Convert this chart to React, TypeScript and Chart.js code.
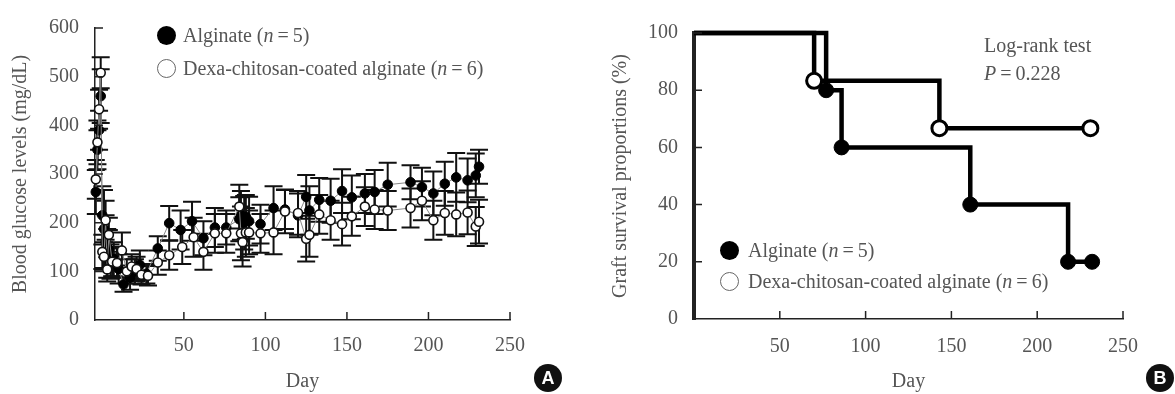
import React, { useEffect, useRef } from 'react';
import { Chart, registerables } from 'chart.js';

Chart.register(...registerables);

const FONT = '"Liberation Serif", "Times New Roman", serif';
const TEXT = '#555555';
const AXIS = '#222222';
const EQ = '\u2009=\u2009';

// ---- Panel A: blood glucose ----
const ALG_DAYS = [-4, -3, -2, -1, 0, 1, 2, 3, 4, 5, 7, 10, 13, 17, 20, 23, 27, 34, 41, 48, 55, 62, 69, 76, 84, 85, 87, 88, 90, 97, 105, 112, 120, 125, 127, 133, 140, 147, 153, 161, 167, 175, 189, 196, 203, 210, 217, 224, 229, 231];
const ALG_MEAN = [263, 350, 390, 460, 215, 187, 160, 137, 145, 120, 125, 105, 73, 87, 100, 113, 95, 147, 199, 185, 203, 168, 190, 190, 207, 215, 200, 212, 203, 197, 230, 227, 215, 253, 225, 247, 245, 265, 252, 260, 263, 278, 283, 273, 260, 280, 293, 287, 297, 315];
const ALG_ERR = [45, 40, 40, 55, 60, 80, 55, 50, 40, 35, 35, 30, 15, 25, 25, 30, 20, 25, 35, 40, 40, 35, 40, 35, 45, 50, 55, 45, 50, 40, 45, 40, 45, 45, 50, 45, 45, 45, 45, 40, 45, 45, 35, 40, 45, 45, 50, 45, 45, 35];

const DEX_DAYS = [-4, -3, -2, -1, 0, 1, 2, 3, 4, 6, 9, 12, 15, 18, 21, 24, 28, 34, 41, 49, 56, 62, 69, 76, 84, 85, 86, 88, 90, 97, 105, 112, 120, 125, 127, 133, 140, 147, 153, 161, 167, 175, 189, 196, 203, 210, 217, 224, 229, 231];
const DEX_MEAN = [289, 365, 433, 508, 140, 130, 205, 104, 175, 120, 117, 143, 100, 110, 105, 93, 91, 118, 133, 150, 170, 140, 178, 178, 233, 178, 160, 180, 180, 178, 180, 223, 220, 167, 175, 217, 205, 197, 213, 233, 227, 225, 230, 245, 205, 220, 217, 221, 192, 202];
const DEX_ERR = [40, 45, 40, 32, 35, 30, 40, 25, 35, 30, 30, 37, 25, 25, 25, 20, 20, 25, 30, 35, 40, 37, 40, 40, 45, 55, 50, 50, 45, 40, 45, 45, 45, 47, 45, 40, 40, 44, 40, 40, 40, 40, 40, 40, 40, 45, 45, 45, 40, 45];

const A_X_TICKS = [50, 100, 150, 200, 250];
const A_Y_TICKS = [0, 100, 200, 300, 400, 500, 600];

// ---- Panel B: graft survival (Kaplan-Meier) ----
const ALG_KM_DAYS = [0, 77, 86, 161, 218, 232];
const ALG_KM_SURV = [100, 80, 60, 40, 20, 20];
const DEX_KM_DAYS = [0, 70, 143, 231];
const DEX_KM_SURV = [100, 83.3, 66.7, 66.7];

const B_X_TICKS = [50, 100, 150, 200, 250];
const B_Y_TICKS = [0, 20, 40, 60, 80, 100];

const CAP = 9;

const errorBars = {
  id: 'errorBars',
  beforeDatasetsDraw(chart: any) {
    const { ctx } = chart;
    const xS = chart.scales.x;
    const yS = chart.scales.y;
    chart.data.datasets.forEach((ds: any) => {
      if (!ds.errors) return;
      ctx.save();
      ctx.strokeStyle = '#111';
      ctx.lineWidth = 2;
      ds.data.forEach((p: any, i: number) => {
        const e = ds.errors[i];
        const px = xS.getPixelForValue(p.x);
        const top = yS.getPixelForValue(p.y + e);
        const bot = yS.getPixelForValue(p.y - e);
        ctx.beginPath();
        ctx.moveTo(px, top);
        ctx.lineTo(px, bot);
        ctx.moveTo(px - CAP, top);
        ctx.lineTo(px + CAP, top);
        ctx.moveTo(px - CAP, bot);
        ctx.lineTo(px + CAP, bot);
        ctx.stroke();
      });
      ctx.restore();
    });
  },
};

const insideTicks = {
  id: 'insideTicks',
  afterDatasetsDraw(chart: any) {
    const { ctx } = chart;
    const x = chart.scales.x;
    const y = chart.scales.y;
    const len = 8;
    ctx.save();
    ctx.strokeStyle = AXIS;
    ctx.lineWidth = 1.5;
    ctx.beginPath();
    x.ticks.forEach((t: any) => {
      const px = x.getPixelForValue(t.value);
      ctx.moveTo(px, x.top);
      ctx.lineTo(px, x.top - len);
    });
    y.ticks.forEach((t: any) => {
      if (t.value === y.min) return;
      const py = y.getPixelForValue(t.value);
      ctx.moveTo(y.right, py);
      ctx.lineTo(y.right + len, py);
    });
    ctx.stroke();
    ctx.restore();
  },
};

const font = { family: FONT, size: 20 };

function axes(opts: {
  xMin: number; xMax: number; xTicks: number[]; yMax: number; yTicks: number[];
  yWidth: number; xHeight: number; yTitle: string; yTitlePad: number; xPad: number; yBorder: number;
}) {
  return {
    x: {
      type: 'linear',
      min: opts.xMin,
      max: opts.xMax,
      afterBuildTicks: (s: any) => { s.ticks = opts.xTicks.map((v) => ({ value: v })); },
      afterFit: (s: any) => { s.height = opts.xHeight; },
      grid: { display: false, drawTicks: false },
      border: { display: true, color: AXIS, width: 1.5 },
      ticks: { color: TEXT, font, padding: opts.xPad, maxRotation: 0, autoSkip: false },
      title: { display: true, text: 'Day', color: TEXT, font, padding: { top: 0, bottom: 0 } },
    },
    y: {
      type: 'linear',
      min: 0,
      max: opts.yMax,
      afterBuildTicks: (s: any) => { s.ticks = opts.yTicks.map((v) => ({ value: v })); },
      afterFit: (s: any) => { s.width = opts.yWidth; },
      grid: { display: false, drawTicks: false },
      border: { display: true, color: AXIS, width: opts.yBorder },
      ticks: { color: TEXT, font, padding: 16, autoSkip: false },
      title: { display: true, text: opts.yTitle, color: TEXT, font, padding: { top: opts.yTitlePad, bottom: 0 } },
    },
  };
}

function GlucoseChart() {
  const ref = useRef<HTMLCanvasElement>(null);
  useEffect(() => {
    const chart = new Chart(ref.current as HTMLCanvasElement, {
      type: 'line',
      data: {
        datasets: [
          {
            label: 'Dexa-chitosan-coated alginate (n=6)',
            data: DEX_DAYS.map((d, i) => ({ x: d, y: DEX_MEAN[i] })),
            errors: DEX_ERR,
            borderColor: '#888',
            borderWidth: 1,
            pointRadius: 4.5,
            pointBackgroundColor: '#fff',
            pointBorderColor: '#111',
            pointBorderWidth: 1.6,
            clip: false,
          } as any,
          {
            label: 'Alginate (n=5)',
            data: ALG_DAYS.map((d, i) => ({ x: d, y: ALG_MEAN[i] })),
            errors: ALG_ERR,
            borderColor: '#888',
            borderWidth: 1,
            pointRadius: 4.8,
            pointBackgroundColor: '#000',
            pointBorderColor: '#000',
            pointBorderWidth: 1,
            clip: false,
          } as any,
        ],
      },
      options: {
        responsive: false,
        animation: false,
        layout: { padding: { left: 0, top: 20, right: 70, bottom: 0 } },
        plugins: { legend: { display: false }, tooltip: { enabled: false } },
        scales: axes({
          xMin: -4.5, xMax: 250, xTicks: A_X_TICKS, yMax: 600, yTicks: A_Y_TICKS,
          yWidth: 95, xHeight: 74, yTitle: 'Blood glucose levels (mg/dL)', yTitlePad: 9, xPad: 14, yBorder: 1.5,
        }) as any,
      },
      plugins: [errorBars, insideTicks],
    });
    return () => chart.destroy();
  }, []);
  return <canvas ref={ref} width={580} height={394} style={{ position: 'absolute', left: 0, top: 0 }} />;
}

function SurvivalChart() {
  const ref = useRef<HTMLCanvasElement>(null);
  useEffect(() => {
    const chart = new Chart(ref.current as HTMLCanvasElement, {
      type: 'line',
      data: {
        datasets: [
          {
            label: 'Dexa-chitosan-coated alginate (n=6)',
            data: DEX_KM_DAYS.map((d, i) => ({ x: d, y: DEX_KM_SURV[i] })),
            stepped: 'before',
            borderColor: '#000',
            borderWidth: 4.5,
            pointRadius: DEX_KM_DAYS.map((_, i) => (i === 0 ? 0 : 7.5)),
            pointBackgroundColor: '#fff',
            pointBorderColor: '#000',
            pointBorderWidth: 3,
            clip: false,
          } as any,
          {
            label: 'Alginate (n=5)',
            data: ALG_KM_DAYS.map((d, i) => ({ x: d, y: ALG_KM_SURV[i] })),
            stepped: 'before',
            borderColor: '#000',
            borderWidth: 4.5,
            pointRadius: ALG_KM_DAYS.map((_, i) => (i === 0 ? 0 : 7.5)),
            pointBackgroundColor: '#000',
            pointBorderColor: '#000',
            pointBorderWidth: 1,
            clip: false,
          } as any,
        ],
      },
      options: {
        responsive: false,
        animation: false,
        layout: { padding: { left: 0, top: 33, right: 52, bottom: 0 } },
        plugins: { legend: { display: false }, tooltip: { enabled: false } },
        scales: axes({
          xMin: 0, xMax: 250, xTicks: B_X_TICKS, yMax: 100, yTicks: B_Y_TICKS,
          yWidth: 114, xHeight: 75, yTitle: 'Graft survival proportions (%)', yTitlePad: 29, xPad: 16, yBorder: 4,
        }) as any,
      },
      plugins: [insideTicks],
    });
    return () => chart.destroy();
  }, []);
  return <canvas ref={ref} width={595} height={394} style={{ position: 'absolute', left: 580, top: 0 }} />;
}

const textStyle: React.CSSProperties = {
  position: 'absolute',
  fontFamily: FONT,
  fontSize: 20,
  lineHeight: '24px',
  color: TEXT,
  whiteSpace: 'nowrap',
};

function Marker({ cx, cy, filled }: { cx: number; cy: number; filled: boolean }) {
  const r = 9.5;
  return (
    <div
      style={{
        position: 'absolute',
        left: cx - r,
        top: cy - r,
        width: r * 2,
        height: r * 2,
        boxSizing: 'border-box',
        borderRadius: '50%',
        background: filled ? '#000' : '#fff',
        border: filled ? 'none' : '1.5px solid #666',
      }}
    />
  );
}

function Label({ x, cy, children }: { x: number; cy: number; children: React.ReactNode }) {
  return <div style={{ ...textStyle, left: x, top: cy - 12 }}>{children}</div>;
}

function Badge({ cx, cy, text }: { cx: number; cy: number; text: string }) {
  const d = 28;
  return (
    <div
      style={{
        position: 'absolute',
        left: cx - d / 2,
        top: cy - d / 2,
        width: d,
        height: d,
        borderRadius: '50%',
        background: '#111',
        color: '#fff',
        fontFamily: '"Liberation Sans", Arial, sans-serif',
        fontWeight: 700,
        fontSize: 18,
        lineHeight: `${d}px`,
        textAlign: 'center',
      }}
    >
      {text}
    </div>
  );
}

export default function App() {
  return (
    <div style={{ position: 'absolute', left: 0, top: 0, width: 1175, height: 394, background: '#fff', overflow: 'hidden' }}>
      <GlucoseChart />
      <SurvivalChart />
      {/* Panel A legend */}
      <Marker cx={166} cy={35} filled />
      <Label x={183} cy={35}>Alginate (<i>n</i>{EQ}5)</Label>
      <Marker cx={166} cy={68} filled={false} />
      <Label x={183} cy={68}>Dexa-chitosan-coated alginate (<i>n</i>{EQ}6)</Label>
      {/* Panel B legend */}
      <Marker cx={729} cy={250} filled />
      <Label x={748} cy={250}>Alginate (<i>n</i>{EQ}5)</Label>
      <Marker cx={729} cy={281} filled={false} />
      <Label x={748} cy={281}>Dexa-chitosan-coated alginate (<i>n</i>{EQ}6)</Label>
      <Label x={984} cy={45}>Log-rank test</Label>
      <Label x={984} cy={73}><i>P</i>{EQ}0.228</Label>
      <Badge cx={548} cy={378} text="A" />
      <Badge cx={1160} cy={378} text="B" />
    </div>
  );
}
